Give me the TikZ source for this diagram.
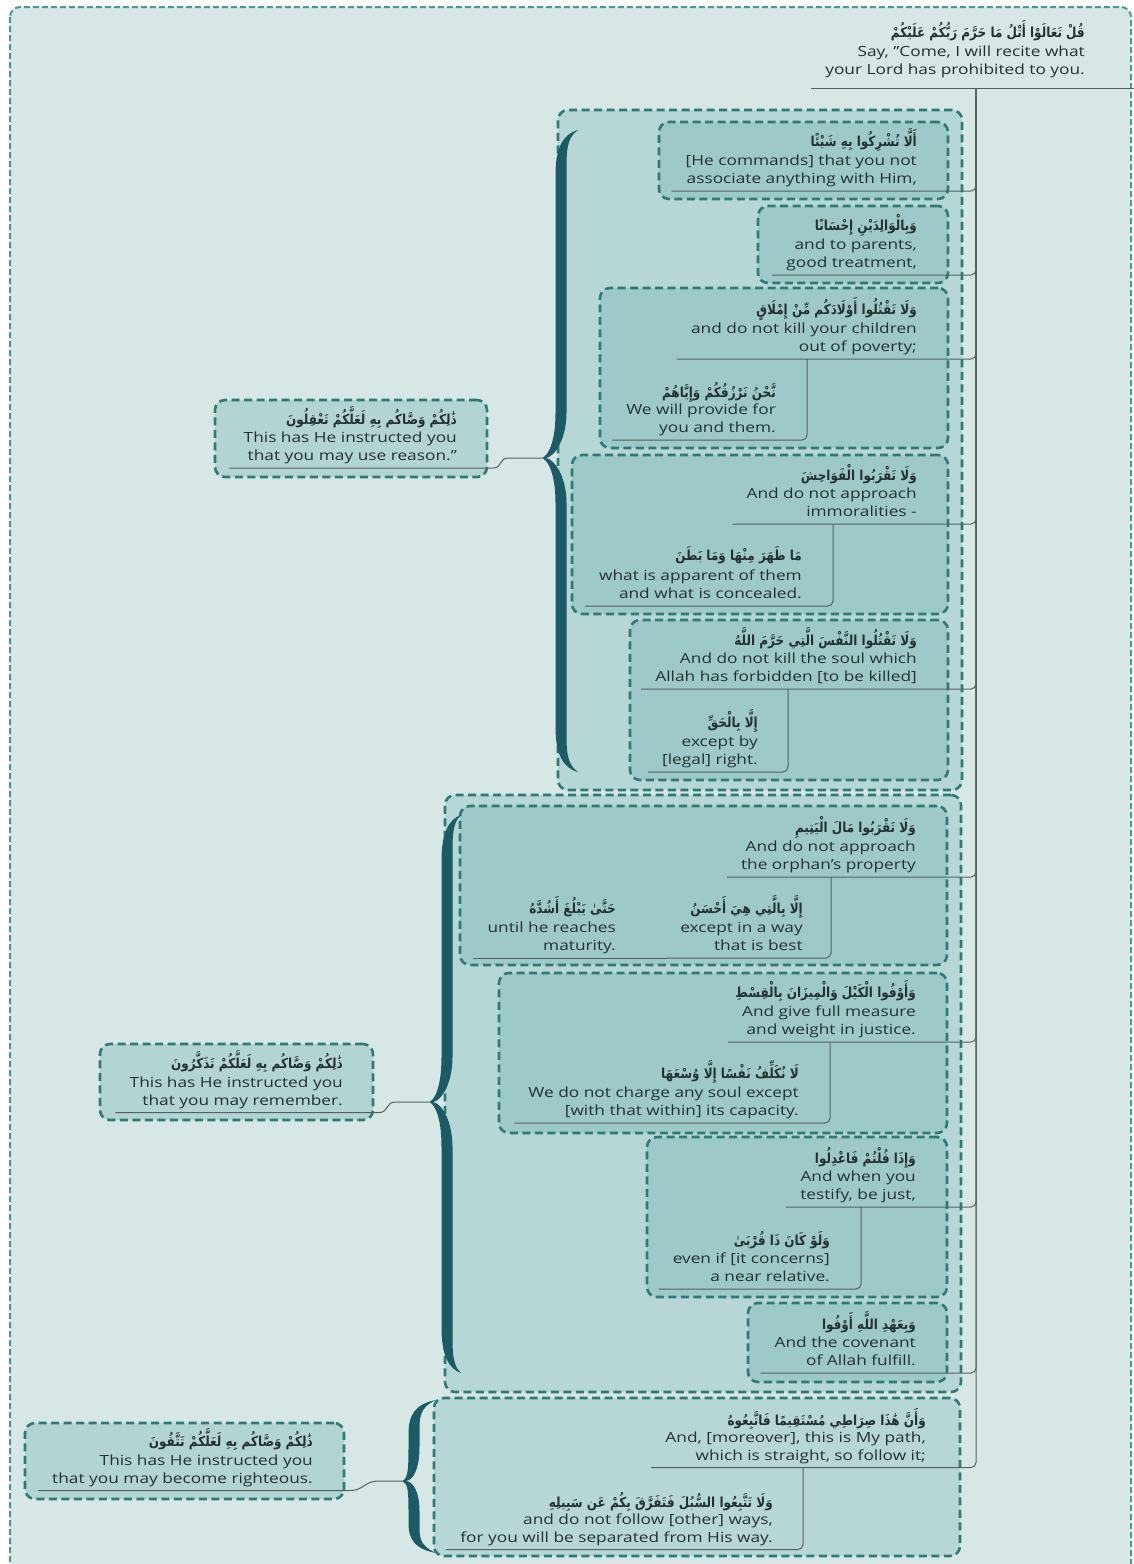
\documentclass[tikz,border=0pt]{standalone}
\usepackage{fontspec}
\setmainfont{Open Sans}[FakeStretch=1.235]
\newfontfamily\arabicfont[Script=Arabic]{DejaVu Sans}
\TeXXeTstate=1
\usetikzlibrary{calc,fit}

\definecolor{pagebg}{HTML}{D6E7E6}
\definecolor{framec}{HTML}{4A9894}
\definecolor{groupfill}{HTML}{B6D7D6}
\definecolor{itemfill}{HTML}{9DCAC8}
\definecolor{leftfill}{HTML}{B2D4D3}
\definecolor{dashc}{HTML}{2E7A77}
\definecolor{connc}{HTML}{556161}
\definecolor{bracec}{HTML}{1C5A65}
\definecolor{txt}{HTML}{263030}

% Arabic verse line, set right to left, a little taller than the face
\newcommand\artext[1]{\scalebox{1}[1.15]{\arabicfont\bfseries\fontsize{12}{15}\selectfont\beginR #1\endR}}

% tapered curly brace: centre x, top y, cusp y, bottom y, cusp x, tip x
\newcommand\curlybrace[6]{%
  \pgfmathsetmacro\bL{min(45,(#3-#2)*0.42)}%
  \pgfmathsetmacro\bLb{min(45,(#4-#3)*0.42)}%
  \fill[bracec] (#6,#2)
    .. controls ({#1+2},{#2+4}) and ({#1-5.5},{#2+\bL*0.4}) .. ({#1-5.5},{#2+\bL})
    -- ({#1-5.5},{#3-\bL})
    .. controls ({#1-5.5},{#3-\bL*0.35}) and ({#5+6},{#3-2}) .. (#5,#3)
    .. controls ({#5+6},{#3+2}) and ({#1-5.5},{#3+\bLb*0.35}) .. ({#1-5.5},{#3+\bLb})
    -- ({#1-5.5},{#4-\bLb})
    .. controls ({#1-5.5},{#4-\bLb*0.4}) and ({#1+2},{#4-4}) .. (#6,#4)
    .. controls ({#1+5},{#4-8}) and ({#1+5.5},{#4-\bLb*0.5}) .. ({#1+5.5},{#4-\bLb})
    -- ({#1+5.5},{#3+\bLb})
    .. controls ({#1+5.5},{#3+\bLb*0.4}) and ({#5+12},{#3+1}) .. ({#5+4},#3)
    .. controls ({#5+12},{#3-1}) and ({#1+5.5},{#3-\bL*0.4}) .. ({#1+5.5},{#3-\bL})
    -- ({#1+5.5},{#2+\bL})
    .. controls ({#1+5.5},{#2+\bL*0.5}) and ({#1+5},{#2+8}) .. (#6,#2) -- cycle;}

\begin{document}
\begin{tikzpicture}[x=1pt,y=-1pt,
  en/.style={inner sep=0pt, anchor=base east, align=right, text=txt,
             font=\fontsize{14}{18}\selectfont},
  ar/.style={inner sep=0pt, anchor=base east, text=txt},
  itembox/.style={draw=dashc, line width=2.6pt, dash pattern=on 8pt off 4.5pt,
                  fill=itemfill, rounded corners=10pt, inner sep=0pt},
  groupbox/.style={itembox, fill=groupfill},
  sidebox/.style={itembox, fill=leftfill},
  conn/.style={draw=connc, line width=1pt, rounded corners=5pt},
]
\useasboundingbox (0,0) rectangle (1134,1564);
\clip (0,0) rectangle (1134,1564);
\fill[white] (0,0) rectangle (1134,1564);

% outer frame
\draw[fill=pagebg, draw=framec, line width=2pt, dash pattern=on 6pt off 3pt,
      rounded corners=10pt] (10,7) rectangle (1131,1585);

% ---------- group boxes ----------
\node[groupbox, fit={(558,110) (962,790)}] (g1) {};
\node[itembox, fit={(659,122) (948,199)}] (box1) {};
\node[itembox, fit={(758,206) (948,283)}] (box2) {};
\node[itembox, fit={(600,288) (948,448)}] (box3) {};
\node[itembox, fit={(572,455) (948,614)}] (box4) {};
\node[itembox, fit={(630,620) (948,780)}] (box5) {};

\node[groupbox, fit={(445,795) (961,1392)}] (g2) {};
\node[itembox, fit={(460,806) (947,965)}] (box6) {};
\node[itembox, fit={(499,973) (947,1133)}] (box7) {};
\node[itembox, fit={(647,1137) (947,1297)}] (box8) {};
\node[itembox, fit={(748,1303) (947,1382)}] (box9) {};

\node[groupbox, fit={(434,1398) (960,1556)}] (g3) {};

\node[sidebox, fit={(215,400) (487,477)}] (l1box) {};
\node[sidebox, fit={(100,1044) (373,1120)}] (l2box) {};
\node[sidebox, fit={(25,1423) (344,1499)}] (l3box) {};

% ---------- braces ----------
\curlybrace{561}{130}{458}{772}{542}{578}
\curlybrace{447}{815}{1102}{1373}{429}{461}
\curlybrace{414}{1400}{1481}{1553}{402}{436}
\coordinate (br1c) at (542,458);
\coordinate (br2c) at (429,1102);
\coordinate (br3c) at (402,1481);

% ---------- texts ----------
\node[ar] (rar) at (1085,37) {\artext{قُلْ تَعَالَوْا أَتْلُ مَا حَرَّمَ رَبُّكُمْ عَلَيْكُمْ}};
\node[en] (ren) at (1085,74) {Say, "Come, I will recite what\\your Lord has prohibited to you.};

\node[ar] (b1ar) at (917,146) {\artext{أَلَّا تُشْرِكُوا بِهِ شَيْئًا}};
\node[en] (b1en) at (917,183.5) {[He commands] that you not\\associate anything with Him,};

\node[ar] (b2ar) at (917,230) {\artext{وَبِالْوَالِدَيْنِ إِحْسَانًا}};
\node[en] (b2en) at (917,267.5) {and to parents,\\good treatment,};

\node[ar] (b3ar) at (917,314) {\artext{وَلَا تَقْتُلُوا أَوْلَادَكُم مِّنْ إِمْلَاقٍ}};
\node[en] (b3en) at (917,351.5) {and do not kill your children\\out of poverty;};
\node[ar] (s3ar) at (776,397) {\artext{نَّحْنُ نَرْزُقُكُمْ وَإِيَّاهُمْ}};
\node[en] (s3en) at (776,432.5) {We will provide for\\you and them.};

\node[ar] (b4ar) at (917,480) {\artext{وَلَا تَقْرَبُوا الْفَوَاحِشَ}};
\node[en] (b4en) at (917,516.5) {And do not approach\\immoralities -};
\node[ar] (s4ar) at (802,560) {\artext{مَا ظَهَرَ مِنْهَا وَمَا بَطَنَ}};
\node[en] (s4en) at (802,598.5) {what is apparent of them\\and what is concealed.};

\node[ar] (b5ar) at (917,645) {\artext{وَلَا تَقْتُلُوا النَّفْسَ الَّتِي حَرَّمَ اللَّهُ}};
\node[en] (b5en) at (917,681.5) {And do not kill the soul which\\Allah has forbidden [to be killed]};
\node[ar] (s5ar) at (758,727) {\artext{إِلَّا بِالْحَقِّ}};
\node[en] (s5en) at (758,764.5) {except by\\{[legal] right.}};

\node[ar] (l1ar) at (457,424) {\artext{ذَٰلِكُمْ وَصَّاكُم بِهِ لَعَلَّكُمْ تَعْقِلُونَ}};
\node[en] (l1en) at (457,460.5) {This has He instructed you\\that you may use reason."};

\node[ar] (b6ar) at (916,832) {\artext{وَلَا تَقْرَبُوا مَالَ الْيَتِيمِ}};
\node[en] (b6en) at (916,869.5) {And do not approach\\the orphan's property};
\node[ar] (s6aar) at (803,913) {\artext{إِلَّا بِالَّتِي هِيَ أَحْسَنُ}};
\node[en] (s6aen) at (803,950.5) {except in a way\\that is best};
\node[ar] (s6bar) at (616,913) {\artext{حَتَّىٰ يَبْلُغَ أَشُدَّهُ}};
\node[en] (s6ben) at (616,950.5) {until he reaches\\maturity.};

\node[ar] (b7ar) at (916,997) {\artext{وَأَوْفُوا الْكَيْلَ وَالْمِيزَانَ بِالْقِسْطِ}};
\node[en] (b7en) at (916,1034.5) {And give full measure\\and weight in justice.};
\node[ar] (s7ar) at (799,1078) {\artext{لَا نُكَلِّفُ نَفْسًا إِلَّا وُسْعَهَا}};
\node[en] (s7en) at (799,1115.5) {We do not charge any soul except\\{[with that within] its capacity.}};

\node[ar] (b8ar) at (916,1163) {\artext{وَإِذَا قُلْتُمْ فَاعْدِلُوا}};
\node[en] (b8en) at (916,1199.5) {And when you\\testify, be just,};
\node[ar] (s8ar) at (830,1245) {\artext{وَلَوْ كَانَ ذَا قُرْبَىٰ}};
\node[en] (s8en) at (830,1281.5) {even if [it concerns]\\a near relative.};

\node[ar] (b9ar) at (916,1329) {\artext{وَبِعَهْدِ اللَّهِ أَوْفُوا}};
\node[en] (b9en) at (916,1365.5) {And the covenant\\of Allah fulfill.};

\node[ar] (l2ar) at (343,1068) {\artext{ذَٰلِكُمْ وَصَّاكُم بِهِ لَعَلَّكُمْ تَذَكَّرُونَ}};
\node[en] (l2en) at (343,1105) {This has He instructed you\\that you may remember.};

\node[ar] (b10ar) at (926,1425) {\artext{وَأَنَّ هَٰذَا صِرَاطِي مُسْتَقِيمًا فَاتَّبِعُوهُ}};
\node[en] (b10en) at (926,1460) {And, [moreover], this is My path,\\which is straight, so follow it;};
\node[ar] (s10ar) at (773,1507) {\artext{وَلَا تَتَّبِعُوا السُّبُلَ فَتَفَرَّقَ بِكُمْ عَن سَبِيلِهِ}};
\node[en] (s10en) at (773,1542) {and do not follow [other] ways,\\for you will be separated from His way.};

\node[ar] (l3ar) at (313,1446) {\artext{ذَٰلِكُمْ وَصَّاكُم بِهِ لَعَلَّكُمْ تَتَّقُونَ}};
\node[en] (l3en) at (313,1483) {This has He instructed you\\that you may become righteous.};

% ---------- connector end points ----------
\coordinate (rt) at (976,88);
\coordinate (redge) at (1134,88);
\coordinate (rs) at ($(ren.west |- rt)+(-14,0)$);
\foreach \n in {b1,b2,b3,s3,b4,s4,b5,s5,l1,b6,s6a,s6b,b7,s7,b8,s8,b9,l2,b10,s10,l3}
  \coordinate (\n s) at ($(\n en.base west)+(-14,7.5)$);

\coordinate (b3j) at ($(b3s -| s3en.east)+(31,0)$);
\coordinate (b4j) at ($(b4s -| s4en.east)+(31,0)$);
\coordinate (b5j) at ($(b5s -| s5en.east)+(30,0)$);
\coordinate (b6j) at ($(b6s -| s6aen.east)+(28,0)$);
\coordinate (b7j) at ($(b7s -| s7en.east)+(31,0)$);
\coordinate (b8j) at ($(b8s -| s8en.east)+(31,0)$);
\coordinate (b10j) at ($(b10s -| s10en.east)+(30,0)$);

% ---------- connectors ----------
\draw[conn] (rs) -- (redge);
\foreach \n in {b1,b2,b3,b4,b5,b6,b7,b8,b9,b10}
  \draw[conn] (rt) |- (\n s);
\foreach \n in {3,4,5,7,8,10}
  \draw[conn] (b\n j) |- (s\n s);
\draw[conn] (b6j) |- (s6as);
\draw[conn] (s6as) -- (s6bs);

\draw[conn] (l1s) -- (l1s -| l1box.east)
  .. controls +(14,0) and +(-14,0) .. ($(br1c)+(-29,0)$) -- (br1c);
\draw[conn] (l2s) -- (l2s -| l2box.east)
  .. controls +(14,0) and +(-14,0) .. ($(br2c)+(-29,0)$) -- (br2c);
\draw[conn] (l3s) -- (l3s -| l3box.east)
  .. controls +(18,0) and +(-18,0) .. ($(br3c)+(-19,0)$) -- (br3c);
\end{tikzpicture}
\end{document}
